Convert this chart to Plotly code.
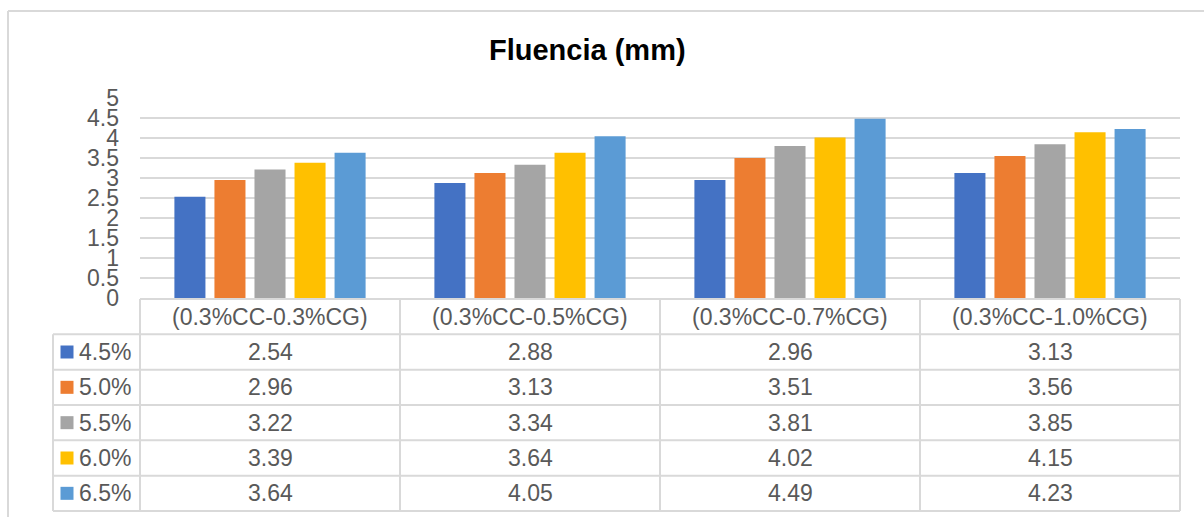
import plotly.graph_objects as go

# Mixtures (categories) and fibre dosages (series)
categories = ["(0.3%CC-0.3%CG)", "(0.3%CC-0.5%CG)", "(0.3%CC-0.7%CG)", "(0.3%CC-1.0%CG)"]
series_names = ["4.5%", "5.0%", "5.5%", "6.0%", "6.5%"]
s45 = [2.54, 2.88, 2.96, 3.13]
s50 = [2.96, 3.13, 3.51, 3.56]
s55 = [3.22, 3.34, 3.81, 3.85]
s60 = [3.39, 3.64, 4.02, 4.15]
s65 = [3.64, 4.05, 4.49, 4.23]
series_values = [s45, s50, s55, s60, s65]
colors = ["#4472C4", "#ED7D31", "#A5A5A5", "#FFC000", "#5B9BD5"]
y_ticks = [0, 0.5, 1, 1.5, 2, 2.5, 3, 3.5, 4, 4.5, 5]

W, H = 1204, 517
FONT = "Liberation Sans, Arial, sans-serif"
TXT = "#595959"
LINE = "#D9D9D9"
FS = 23


def px_x(p):
    return p / W


def px_y(p):
    return 1 - p / H


fig = go.Figure()

for name, vals, col in zip(series_names, series_values, colors):
    fig.add_trace(go.Bar(x=categories, y=vals, name=name, marker_color=col,
                         marker_line_width=0, xaxis="x", yaxis="y", showlegend=False))

# ---- data table below the chart (its own axes: x2 in category units, y2 in rows) ----
ncat = len(categories)
nrow = len(series_names) + 1
unit_x = 260.0  # pixels per category
unit_y = 212.0 / nrow  # pixels per table row
x2_left_px, x2_right_px = 48, 1186
y2_top_px, y2_bot_px = 296, 514
x2_range = [(x2_left_px - 140) / unit_x - 0.5, (x2_right_px - 140) / unit_x - 0.5]
y2_range = [(y2_bot_px - 299) / unit_y, (y2_top_px - 299) / unit_y]
key_col_left = -0.5 - 87 / unit_x

shapes = []
line_style = dict(color=LINE, width=2)
# horizontal rules
shapes.append(dict(type="line", xref="x2", yref="y2", x0=-0.5, x1=ncat - 0.5, y0=0, y1=0, line=line_style))
for r in range(1, nrow + 1):
    shapes.append(dict(type="line", xref="x2", yref="y2", x0=key_col_left, x1=ncat - 0.5,
                       y0=r, y1=r, line=line_style))
# vertical rules
shapes.append(dict(type="line", xref="x2", yref="y2", x0=key_col_left, x1=key_col_left,
                   y0=1, y1=nrow, line=line_style))
for c in range(ncat + 1):
    shapes.append(dict(type="line", xref="x2", yref="y2", x0=c - 0.5, x1=c - 0.5,
                       y0=0, y1=nrow, line=line_style))
# outer chart border
shapes.append(dict(type="line", xref="paper", yref="paper", x0=px_x(8), x1=1, y0=px_y(11), y1=px_y(11),
                   line=line_style))
shapes.append(dict(type="line", xref="paper", yref="paper", x0=px_x(8), x1=px_x(8), y0=px_y(11), y1=0,
                   line=line_style))

annotations = []
for i, cat in enumerate(categories):
    annotations.append(dict(x=i, y=0.5, xref="x2", yref="y2", text=cat, showarrow=False,
                            font=dict(family=FONT, size=FS, color=TXT)))
    for r, vals in enumerate(series_values):
        annotations.append(dict(x=i, y=r + 1.5, xref="x2", yref="y2", text=f"{vals[i]:.2f}",
                                showarrow=False, font=dict(family=FONT, size=FS, color=TXT)))
for r, name in enumerate(series_names):
    annotations.append(dict(x=-0.5 - 63 / unit_x, y=r + 1.5, xref="x2", yref="y2", text=name,
                            showarrow=False, xanchor="left",
                            font=dict(family=FONT, size=FS, color=TXT)))

# legend keys inside the table
fig.add_trace(go.Scatter(x=[-0.5 - 73 / unit_x] * len(series_names),
                         y=[r + 1.5 for r in range(len(series_names))],
                         mode="markers", xaxis="x2", yaxis="y2", showlegend=False,
                         marker=dict(symbol="square", size=13, color=colors, line_width=0),
                         cliponaxis=False, hoverinfo="skip"))

# chart title
annotations.append(dict(x=px_x(587), y=px_y(50), xref="paper", yref="paper", text="<b>Fluencia (mm)</b>",
                        showarrow=False, xanchor="center", yanchor="middle",
                        font=dict(family=FONT, size=29, color="#000000")))

fig.update_layout(
    width=W, height=H,
    margin=dict(l=0, r=0, t=0, b=0, pad=0, autoexpand=False),
    paper_bgcolor="white", plot_bgcolor="rgba(0,0,0,0)",
    barmode="group", bargap=0.23, bargroupgap=0.225,
    font=dict(family=FONT, color=TXT),
    showlegend=False,
    shapes=shapes, annotations=annotations,
    xaxis=dict(domain=[px_x(140), px_x(1180)], type="category", showticklabels=False,
               showgrid=False, zeroline=False, showline=False, anchor="y", automargin=False),
    yaxis=dict(domain=[px_y(298.3), px_y(98.3)], range=[0, 5], tickvals=y_ticks,
               ticktext=[f"{v:g}" for v in y_ticks], showgrid=True, gridcolor=LINE, gridwidth=2,
               zeroline=False, showline=False, ticks="", ticklabelstandoff=20,
               tickfont=dict(family=FONT, size=FS, color=TXT), anchor="x", automargin=False),
    xaxis2=dict(domain=[px_x(x2_left_px), px_x(x2_right_px)], range=x2_range, visible=False,
                anchor="y2", automargin=False),
    yaxis2=dict(domain=[px_y(y2_bot_px), px_y(y2_top_px)], range=y2_range, visible=False,
                anchor="x2", automargin=False),
)

fig.write_html("out.html")
